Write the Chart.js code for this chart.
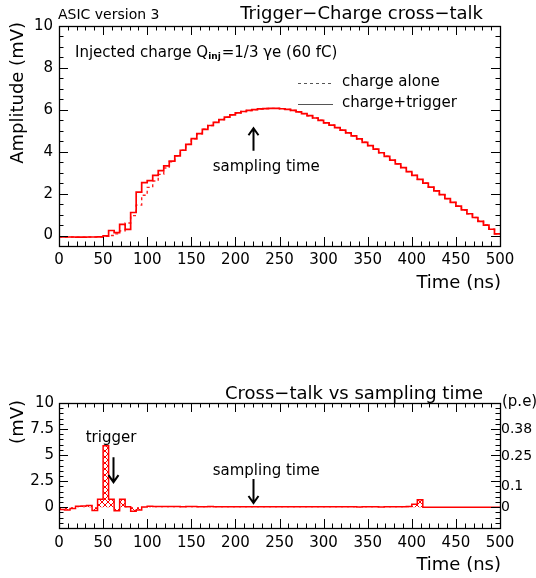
<!DOCTYPE html>
<html>
<head>
<meta charset="utf-8">
<script src="https://cdn.jsdelivr.net/npm/chart.js@4"></script>
<style>
  html, body { margin: 0; padding: 0; background: #fff; }
  body { width: 536px; height: 578px; position: relative; overflow: hidden; }
  canvas { position: absolute; left: 0; }
  #amplitudeChart { top: 0; }
  #crosstalkChart { top: 370px; }
</style>
</head>
<body>
<canvas id="amplitudeChart" width="536" height="300" style="width:536px;height:300px"></canvas>
<canvas id="crosstalkChart" width="536" height="208" style="width:536px;height:208px"></canvas>
<script>
// ---- data -------------------------------------------------------------
const binWidth = 6.25;          // ns per sample bin
const timeEnd = 500;            // ns
const timeTicks = [0, 50, 100, 150, 200, 250, 300, 350, 400, 450, 500];
const amplitudeTicks = [0, 2, 4, 6, 8, 10];
const crosstalkTicks = [0, 2.5, 5, 7.5, 10];
const peTicks = [0, 0.1, 0.25, 0.38];
const peTickLabels = ['0', '0.1', '0.25', '0.38'];
const mvPerPe = 19.6;           // mV for one photo-electron

// shaper output, charge injected together with a trigger (mV)
const chargeTrigger = [
  -0.06, -0.07, -0.07, -0.08, -0.08, -0.07, -0.07, -0.06,
  -0.02, 0.24, 0.14, 0.53, 0.29, 1.10, 2.07, 2.52,
  2.62, 2.87, 3.10, 3.32, 3.55, 3.80, 4.07, 4.35,
  4.62, 4.86, 5.07, 5.25, 5.40, 5.53, 5.65, 5.76,
  5.85, 5.92, 5.97, 6.01, 6.04, 6.06, 6.07, 6.07,
  6.05, 6.02, 5.97, 5.90, 5.82, 5.72, 5.61, 5.50,
  5.38, 5.27, 5.15, 5.03, 4.90, 4.76, 4.61, 4.45,
  4.29, 4.12, 3.95, 3.78, 3.60, 3.42, 3.24, 3.05,
  2.87, 2.68, 2.50, 2.31, 2.13, 1.95, 1.76, 1.58,
  1.40, 1.22, 1.04, 0.86, 0.68, 0.50, 0.30, 0.08
];

// shaper output, charge injected alone (mV)
const chargeAlone = [
  -0.06, -0.07, -0.07, -0.08, -0.08, -0.07, -0.07, -0.06,
  -0.04, 0.00, 0.08, 0.22, 0.60, 0.95, 1.45, 1.92,
  2.30, 2.60, 2.92, 3.22, 3.52, 3.80, 4.07, 4.35,
  4.62, 4.86, 5.07, 5.25, 5.40, 5.53, 5.65, 5.76,
  5.85, 5.92, 5.97, 6.01, 6.04, 6.06, 6.07, 6.07,
  6.05, 6.02, 5.97, 5.90, 5.82, 5.72, 5.61, 5.50,
  5.38, 5.27, 5.15, 5.03, 4.90, 4.76, 4.61, 4.45,
  4.29, 4.12, 3.95, 3.78, 3.60, 3.42, 3.24, 3.05,
  2.87, 2.68, 2.50, 2.31, 2.13, 1.95, 1.76, 1.58,
  1.40, 1.22, 1.04, 0.86, 0.68, 0.50, 0.30, 0.08
];

// cross-talk seen on the charge channel vs sampling time (mV)
const crossTalk = [
  -0.22, -0.26, -0.12, 0.08, 0.12, 0.16, -0.32, 0.75,
  5.90, 0.75, -0.35, 0.75, 0.05, -0.38, -0.28, 0.02,
  0.08, 0.06, 0.06, 0.06, 0.06, 0.06, 0.05, 0.06,
  0.06, 0.05, 0.05, 0.06, 0.05, 0.05, 0.05, 0.04,
  0.04, 0.04, 0.05, 0.04, 0.04, 0.04, 0.04, 0.03,
  0.04, 0.04, 0.04, 0.03, 0.04, 0.03, 0.03, 0.04,
  0.03, 0.03, 0.03, 0.03, 0.03, 0.03, 0.02, 0.03,
  0.03, 0.03, 0.02, 0.03, 0.03, 0.04, 0.05, 0.06,
  0.28, 0.72, 0.00, 0.00, 0.00, 0.00, 0.00, 0.00,
  0.00, 0.00, 0.00, 0.00, 0.00, 0.00, 0.00, 0.00
];

// ---- helpers ----------------------------------------------------------
const FONT = '"DejaVu Sans", sans-serif';
Chart.defaults.font.family = FONT;
Chart.defaults.color = '#000';

// histogram bins -> step points (value holds until the next bin edge)
function toSteps(values) {
  const pts = values.map((v, i) => ({ x: i * binWidth, y: v }));
  pts.push({ x: timeEnd, y: values[values.length - 1] });
  return pts;
}

function crossHatch(color) {
  const c = document.createElement('canvas');
  c.width = 6; c.height = 6;
  const g = c.getContext('2d');
  g.strokeStyle = color;
  g.lineWidth = 1;
  g.beginPath();
  g.moveTo(0, 0); g.lineTo(6, 6);
  g.moveTo(6, 0); g.lineTo(0, 6);
  g.stroke();
  return g.createPattern(c, 'repeat');
}

function fixedTicks(list) {
  return s => { s.ticks = list.map(v => ({ value: v })); };
}

// frame with inward ticks on all four sides
const frameTicks = {
  id: 'frameTicks',
  afterDatasetsDraw(chart, args, o) {
    const { ctx, chartArea: a } = chart;
    const xs = chart.scales.x, ys = chart.scales.y;
    ctx.save();
    ctx.strokeStyle = '#000';
    ctx.lineWidth = 1;
    const seg = (x1, y1, x2, y2) => { ctx.beginPath(); ctx.moveTo(x1, y1); ctx.lineTo(x2, y2); ctx.stroke(); };
    const isMul = (v, m) => Math.abs(v / m - Math.round(v / m)) < 1e-6;
    for (let k = Math.ceil(xs.min / o.xMinor - 1e-9); k * o.xMinor <= xs.max + 1e-9; k++) {
      const v = k * o.xMinor;
      const px = Math.round(xs.getPixelForValue(v)) + 0.5;
      const len = isMul(v, o.xMajor) ? o.majorLen : o.minorLen;
      seg(px, a.bottom, px, a.bottom - len);
      seg(px, a.top, px, a.top + len);
    }
    for (let k = Math.ceil(ys.min / o.yMinor - 1e-9); k * o.yMinor <= ys.max + 1e-9; k++) {
      const v = k * o.yMinor;
      const py = Math.round(ys.getPixelForValue(v)) + 0.5;
      const len = isMul(v, o.yMajor) ? o.majorLen : o.minorLen;
      seg(a.left, py, a.left + len, py);
      seg(a.right, py, a.right - len, py);
    }
    ctx.lineWidth = 1.3;
    ctx.strokeRect(Math.round(a.left) + 0.5, Math.round(a.top) + 0.5,
                   Math.round(a.right - a.left), Math.round(a.bottom - a.top));
    ctx.restore();
  }
};

// titles, labels, arrows and the hand-made legend
const notes = {
  id: 'notes',
  afterDraw(chart, args, o) {
    const { ctx } = chart;
    const xs = chart.scales.x, ys = chart.scales.y;
    ctx.save();
    ctx.textBaseline = 'middle';
    (o.texts || []).forEach(t => {
      ctx.font = `${t.bold ? 'bold ' : ''}${t.size}px ${FONT}`;
      ctx.fillStyle = t.color || '#000';
      ctx.textAlign = t.align || 'left';
      let x = t.x, y = t.y;
      if (t.data) { x = xs.getPixelForValue(t.x); y = ys.getPixelForValue(t.y); }
      if (t.rotate) {
        ctx.save(); ctx.translate(x, y); ctx.rotate(-Math.PI / 2);
        ctx.fillText(t.text, 0, 0); ctx.restore();
      } else {
        ctx.fillText(t.text, x, y);
      }
    });
    (o.runs || []).forEach(r => {
      let x = r.x;
      ctx.textAlign = 'left';
      ctx.fillStyle = '#000';
      r.parts.forEach(p => {
        ctx.font = `${p.bold ? 'bold ' : ''}${p.size}px ${FONT}`;
        ctx.fillText(p.text, x, r.y + (p.dy || 0));
        x += ctx.measureText(p.text).width + (p.gap || 0);
      });
    });
    (o.arrows || []).forEach(ar => {
      const x = Math.round(xs.getPixelForValue(ar.x)) + 0.5;
      const y1 = ys.getPixelForValue(ar.from), y2 = ys.getPixelForValue(ar.to);
      const dir = y2 < y1 ? 1 : -1;
      ctx.strokeStyle = '#000';
      ctx.lineWidth = 2;
      ctx.beginPath();
      ctx.moveTo(x, y1); ctx.lineTo(x, y2);
      ctx.moveTo(x - 5, y2 + dir * 7); ctx.lineTo(x, y2); ctx.lineTo(x + 5, y2 + dir * 7);
      ctx.stroke();
    });
    (o.legend || []).forEach(l => {
      ctx.strokeStyle = '#555';
      ctx.lineWidth = 1;
      ctx.setLineDash(l.dash || []);
      ctx.beginPath(); ctx.moveTo(l.x, l.y + 0.5); ctx.lineTo(l.x + 35, l.y + 0.5); ctx.stroke();
      ctx.setLineDash([]);
      ctx.font = `15px ${FONT}`;
      ctx.fillStyle = '#000';
      ctx.textAlign = 'left';
      ctx.fillText(l.text, l.x + 44, l.y - 1);
    });
    ctx.restore();
  }
};

// ---- amplitude vs time ------------------------------------------------
new Chart(document.getElementById('amplitudeChart'), {
  type: 'line',
  data: {
    datasets: [
      { label: 'charge+trigger', data: toSteps(chargeTrigger), stepped: true,
        borderColor: '#ff0000', borderWidth: 1.7, pointRadius: 0, fill: false },
      { label: 'charge alone', data: toSteps(chargeAlone), stepped: true,
        borderColor: '#ff2020', borderWidth: 1.4, borderDash: [3, 3], pointRadius: 0, fill: false }
    ]
  },
  options: {
    responsive: false, animation: false, devicePixelRatio: 1,
    layout: { padding: { left: 0, right: 36, top: 26, bottom: 0 } },
    scales: {
      x: { type: 'linear', min: 0, max: timeEnd, afterBuildTicks: fixedTicks(timeTicks),
           ticks: { font: { size: 15 }, padding: 5, maxRotation: 0, autoSkip: false },
           grid: { display: false, drawTicks: false }, border: { display: false },
           afterFit: s => { s.height = 54; } },
      y: { type: 'linear', min: -0.5, max: 10, afterBuildTicks: fixedTicks(amplitudeTicks),
           ticks: { font: { size: 15 }, padding: 6 },
           grid: { display: false, drawTicks: false }, border: { display: false },
           afterFit: s => { s.width = 59; } }
    },
    plugins: {
      legend: { display: false }, tooltip: { enabled: false },
      frameTicks: { xMajor: 50, xMinor: 10, yMajor: 2, yMinor: 0.5, majorLen: 9, minorLen: 4.5 },
      notes: {
        texts: [
          { text: 'ASIC version 3', x: 58, y: 15, size: 14 },
          { text: 'Trigger\u2212Charge cross\u2212talk', x: 483, y: 14, size: 18, align: 'right' },
          { text: 'Amplitude (mV)', x: 18, y: 22, size: 18, align: 'right', rotate: true },
          { text: 'Time (ns)', x: 501, y: 283, size: 18, align: 'right' },
          { text: 'sampling time', x: 235, y: 3.25, size: 15, align: 'center', data: true }
        ],
        runs: [
          { x: 75, y: 53, parts: [
            { text: 'Injected charge Q', size: 15 },
            { text: 'inj', size: 9, bold: true, dy: 4, gap: 1 },
            { text: '=1/3 \u03b3e (60 fC)', size: 15 }
          ] }
        ],
        arrows: [ { x: 220, from: 4.05, to: 5.12 } ],
        legend: [
          { text: 'charge alone', x: 298, y: 83, dash: [3, 3] },
          { text: 'charge+trigger', x: 298, y: 104 }
        ]
      }
    }
  },
  plugins: [frameTicks, notes]
});

// ---- cross-talk vs sampling time --------------------------------------
new Chart(document.getElementById('crosstalkChart'), {
  type: 'line',
  data: {
    datasets: [
      { label: 'cross-talk', data: toSteps(crossTalk), stepped: true,
        borderColor: '#ff0000', borderWidth: 1.5, pointRadius: 0,
        fill: 'origin', backgroundColor: crossHatch('#ff0000') }
    ]
  },
  options: {
    responsive: false, animation: false, devicePixelRatio: 1,
    layout: { padding: { left: 0, right: 0, top: 33, bottom: 0 } },
    scales: {
      x: { type: 'linear', min: 0, max: timeEnd, afterBuildTicks: fixedTicks(timeTicks),
           ticks: { font: { size: 15 }, padding: 6, maxRotation: 0, autoSkip: false },
           grid: { display: false, drawTicks: false }, border: { display: false },
           afterFit: s => { s.height = 50; } },
      y: { type: 'linear', min: -2, max: 10, afterBuildTicks: fixedTicks(crosstalkTicks),
           ticks: { font: { size: 15 }, padding: 5 },
           grid: { display: false, drawTicks: false }, border: { display: false },
           afterFit: s => { s.width = 59; } },
      pe: { type: 'linear', position: 'right', min: -2 / mvPerPe, max: 10 / mvPerPe,
            afterBuildTicks: fixedTicks(peTicks),
            ticks: { font: { size: 14 }, padding: 1, callback: (v, i) => peTickLabels[i] },
            grid: { display: false, drawTicks: false }, border: { display: false },
            afterFit: s => { s.width = 36; } }
    },
    plugins: {
      legend: { display: false }, tooltip: { enabled: false },
      frameTicks: { xMajor: 50, xMinor: 10, yMajor: 2.5, yMinor: 0.5, majorLen: 9, minorLen: 4.5 },
      notes: {
        texts: [
          { text: 'Cross\u2212talk vs sampling time', x: 483, y: 24, size: 18, align: 'right' },
          { text: '(p.e)', x: 502, y: 32, size: 15 },
          { text: '(mV)', x: 18, y: 30, size: 18, align: 'right', rotate: true },
          { text: 'Time (ns)', x: 501, y: 195, size: 18, align: 'right' },
          { text: 'trigger', x: 59, y: 6.6, size: 15, align: 'center', data: true },
          { text: 'sampling time', x: 235, y: 3.5, size: 15, align: 'center', data: true }
        ],
        arrows: [
          { x: 61, from: 4.8, to: 2.4 },
          { x: 220, from: 2.7, to: 0.4 }
        ]
      }
    }
  },
  plugins: [frameTicks, notes]
});
</script>
</body>
</html>
